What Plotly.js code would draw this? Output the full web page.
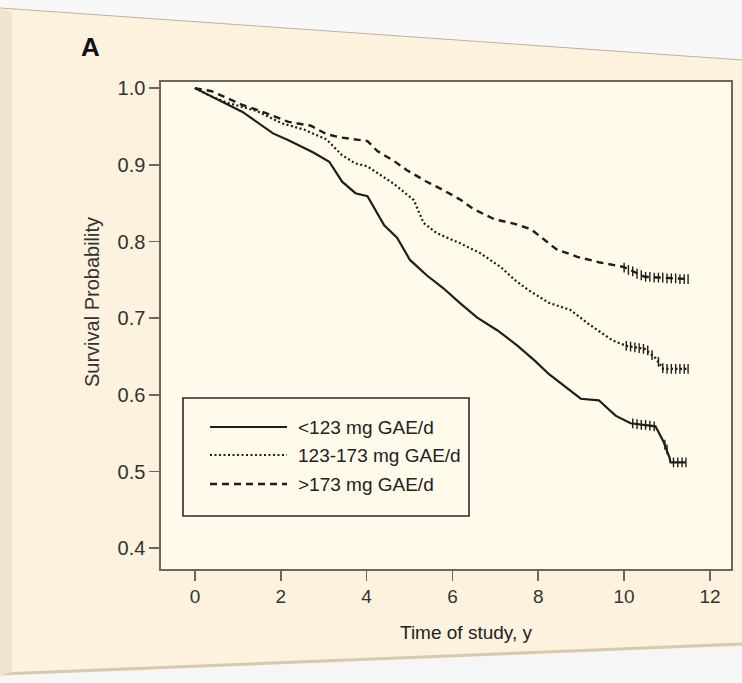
<!DOCTYPE html>
<html>
<head>
<meta charset="utf-8">
<script src="https://cdn.plot.ly/plotly-3.0.1.min.js"></script>
<style>
  html, body { margin: 0; padding: 0; background: #fafafa; }
  #chart { width: 742px; height: 683px; }
</style>
</head>
<body>
<div id="chart"></div>
<script>
// ---- data ----
const seriesNames = ["<123 mg GAE/d", "123-173 mg GAE/d", ">173 mg GAE/d"];

const lowT = [0, 1.11, 1.82, 2.18, 2.76, 3.13, 3.43, 3.74, 4.02, 4.41, 4.71, 5.01, 5.40, 5.79, 6.17, 6.57, 7.05, 7.52, 7.93, 8.25, 8.99, 9.41, 9.80, 10.15, 10.73, 10.91, 11.06, 11.08, 11.44];
const lowS = [1.0, 0.969, 0.941, 0.932, 0.916, 0.904, 0.878, 0.863, 0.859, 0.821, 0.805, 0.776, 0.756, 0.739, 0.720, 0.701, 0.684, 0.664, 0.644, 0.627, 0.595, 0.593, 0.573, 0.563, 0.559, 0.540, 0.518, 0.512, 0.512];

const midT = [0, 0.39, 0.75, 1.45, 2.03, 2.54, 3.07, 3.42, 3.73, 4.02, 4.64, 5.10, 5.33, 5.63, 6.17, 6.64, 7.12, 7.45, 7.76, 8.25, 8.74, 9.16, 9.73, 10.05, 10.48, 10.73, 10.91, 11.49];
const midS = [1.0, 0.989, 0.981, 0.970, 0.954, 0.946, 0.933, 0.913, 0.902, 0.898, 0.875, 0.854, 0.824, 0.811, 0.798, 0.785, 0.767, 0.750, 0.737, 0.720, 0.711, 0.693, 0.671, 0.664, 0.660, 0.648, 0.634, 0.634];

const highT = [0, 0.39, 1.11, 1.54, 2.18, 2.70, 3.07, 3.36, 4.02, 4.25, 4.64, 4.94, 5.40, 5.79, 6.17, 6.50, 6.98, 7.45, 7.83, 8.17, 8.42, 8.91, 9.41, 9.98, 10.23, 10.48, 11.49];
const highS = [1.0, 0.996, 0.978, 0.970, 0.956, 0.951, 0.940, 0.936, 0.931, 0.918, 0.905, 0.893, 0.878, 0.867, 0.855, 0.842, 0.829, 0.823, 0.816, 0.801, 0.790, 0.780, 0.773, 0.767, 0.760, 0.754, 0.751];

// censoring marks (tail of each curve)
const lowCensT = [10.2, 10.3, 10.4, 10.5, 10.6, 10.7, 10.95, 11.0, 11.15, 11.25, 11.35, 11.44];
const lowCensS = [0.563, 0.562, 0.561, 0.561, 0.560, 0.559, 0.535, 0.529, 0.512, 0.512, 0.512, 0.512];
const midCensT = [10.05, 10.15, 10.25, 10.35, 10.45, 10.55, 10.65, 10.8, 10.9, 11.0, 11.1, 11.2, 11.3, 11.4, 11.49];
const midCensS = [0.664, 0.663, 0.662, 0.661, 0.660, 0.658, 0.652, 0.643, 0.635, 0.634, 0.634, 0.634, 0.634, 0.634, 0.634];
const highCensT = [10.0, 10.1, 10.2, 10.3, 10.4, 10.5, 10.6, 10.7, 10.8, 10.9, 11.0, 11.1, 11.2, 11.3, 11.4, 11.49];
const highCensS = [0.766, 0.763, 0.761, 0.758, 0.756, 0.754, 0.754, 0.753, 0.753, 0.753, 0.752, 0.752, 0.752, 0.751, 0.751, 0.751];

const xTicks = [0, 2, 4, 6, 8, 10, 12];
const yTicks = [0.4, 0.5, 0.6, 0.7, 0.8, 0.9, 1.0];

// ---- layout helpers ----
const W = 742, H = 683;
const M = { l: 161, r: 11, t: 82, b: 114 };
const PW = W - M.l - M.r, PH = H - M.t - M.b;
const px = x => (x - M.l) / PW;
const py = y => (H - M.b - y) / PH;

const ink = "#1e1e1e";
const FONT = "Liberation Sans, Arial, sans-serif";

const styles = [
  { width: 2.2, dash: "solid" },
  { width: 2.2, dash: "2px,2.5px" },
  { width: 2.4, dash: "7px,5px" }
];

const curves = [[lowT, lowS], [midT, midS], [highT, highS]];
const cens = [[lowCensT, lowCensS], [midCensT, midCensS], [highCensT, highCensS]];

const traces = [];
curves.forEach((c, i) => {
  traces.push({
    type: "scatter", mode: "lines", x: c[0], y: c[1], name: seriesNames[i],
    line: { color: ink, width: styles[i].width, dash: styles[i].dash, shape: "linear" },
    showlegend: false, hoverinfo: "x+y+name"
  });
});
cens.forEach((c, i) => {
  traces.push({
    type: "scatter", mode: "markers", x: c[0], y: c[1], name: seriesNames[i] + " censored",
    marker: { symbol: "line-ns-open", size: 7, color: ink, line: { color: ink, width: 1.4 } },
    showlegend: false, hoverinfo: "skip"
  });
});

const shapes = [
  // white background above the photographed page edge
  { type: "path", xref: "paper", yref: "paper", layer: "below",
    path: `M ${px(0)} ${py(0)} L ${px(W)} ${py(0)} L ${px(W)} ${py(60)} L ${px(0)} ${py(8)} Z`,
    fillcolor: "#f8f8f8", line: { width: 0 } },
  { type: "line", xref: "paper", yref: "paper", layer: "below",
    x0: px(0), y0: py(8), x1: px(W), y1: py(60), line: { color: "#b9b2a6", width: 1 } },
  // white background below the page
  { type: "path", xref: "paper", yref: "paper", layer: "below",
    path: `M ${px(0)} ${py(676)} L ${px(W)} ${py(646)} L ${px(W)} ${py(H)} L ${px(0)} ${py(H)} Z`,
    fillcolor: "#f6f6f6", line: { width: 0 } },
  { type: "line", xref: "paper", yref: "paper", layer: "below",
    x0: px(0), y0: py(674), x1: px(W), y1: py(644), line: { color: "#d8c9ad", width: 3 } },
  // left page edge strip
  { type: "path", xref: "paper", yref: "paper", layer: "below",
    path: `M ${px(0)} ${py(8)} L ${px(12)} ${py(12)} L ${px(12)} ${py(672)} L ${px(0)} ${py(676)} Z`,
    fillcolor: "#efe4cf", line: { width: 0 } },
  // legend box
  { type: "rect", xref: "paper", yref: "paper",
    x0: px(183), y0: py(398), x1: px(469), y1: py(516),
    line: { color: "#2a2a2a", width: 1.6 }, fillcolor: "rgba(0,0,0,0)" }
];

const legendRows = [427, 455, 484];
const annotations = [];
legendRows.forEach((ry, i) => {
  shapes.push({ type: "line", xref: "paper", yref: "paper",
    x0: px(210), y0: py(ry), x1: px(287), y1: py(ry),
    line: { color: ink, width: styles[i].width, dash: styles[i].dash } });
  annotations.push({ xref: "paper", yref: "paper", x: px(296), y: py(ry),
    xanchor: "left", yanchor: "middle", showarrow: false, text: seriesNames[i].replace(/</g, "&lt;").replace(/>/g, "&gt;"),
    font: { family: FONT, size: 19, color: "#222" } });
});

annotations.push(
  { xref: "paper", yref: "paper", x: px(79), y: py(47), xanchor: "left", yanchor: "middle",
    showarrow: false, text: "<b>A</b>", font: { family: FONT, size: 26, color: "#111" } },
  { xref: "paper", yref: "paper", x: px(92), y: py(302), xanchor: "center", yanchor: "middle",
    showarrow: false, textangle: -90, text: "Survival Probability",
    font: { family: FONT, size: 20, color: "#333" } },
  { xref: "paper", yref: "paper", x: px(466), y: py(632), xanchor: "center", yanchor: "middle",
    showarrow: false, text: "Time of study, y",
    font: { family: FONT, size: 19, color: "#222" } }
);

const layout = {
  width: W, height: H,
  margin: M,
  paper_bgcolor: "#fcf2de",
  plot_bgcolor: "#fffaea",
  showlegend: false,
  font: { family: FONT, color: "#333" },
  xaxis: {
    range: [-0.79, 12.49], tickvals: xTicks, ticktext: xTicks.map(String),
    showgrid: false, zeroline: false, showline: true, mirror: true,
    linecolor: "#6e665a", linewidth: 1.6, ticks: "outside", ticklen: 10,
    tickcolor: "#6e665a", tickwidth: 1.6, tickfont: { family: FONT, size: 19, color: "#333" }
  },
  yaxis: {
    range: [0.373, 1.008], tickvals: yTicks, ticktext: yTicks.map(v => v.toFixed(1)),
    showgrid: false, zeroline: false, showline: true, mirror: true,
    linecolor: "#6e665a", linewidth: 1.6, ticks: "outside", ticklen: 10,
    tickcolor: "#6e665a", tickwidth: 1.6, tickfont: { family: FONT, size: 20, color: "#333" }
  },
  shapes: shapes,
  annotations: annotations
};

Plotly.newPlot("chart", traces, layout, { displayModeBar: false, staticPlot: true });
</script>
</body>
</html>
